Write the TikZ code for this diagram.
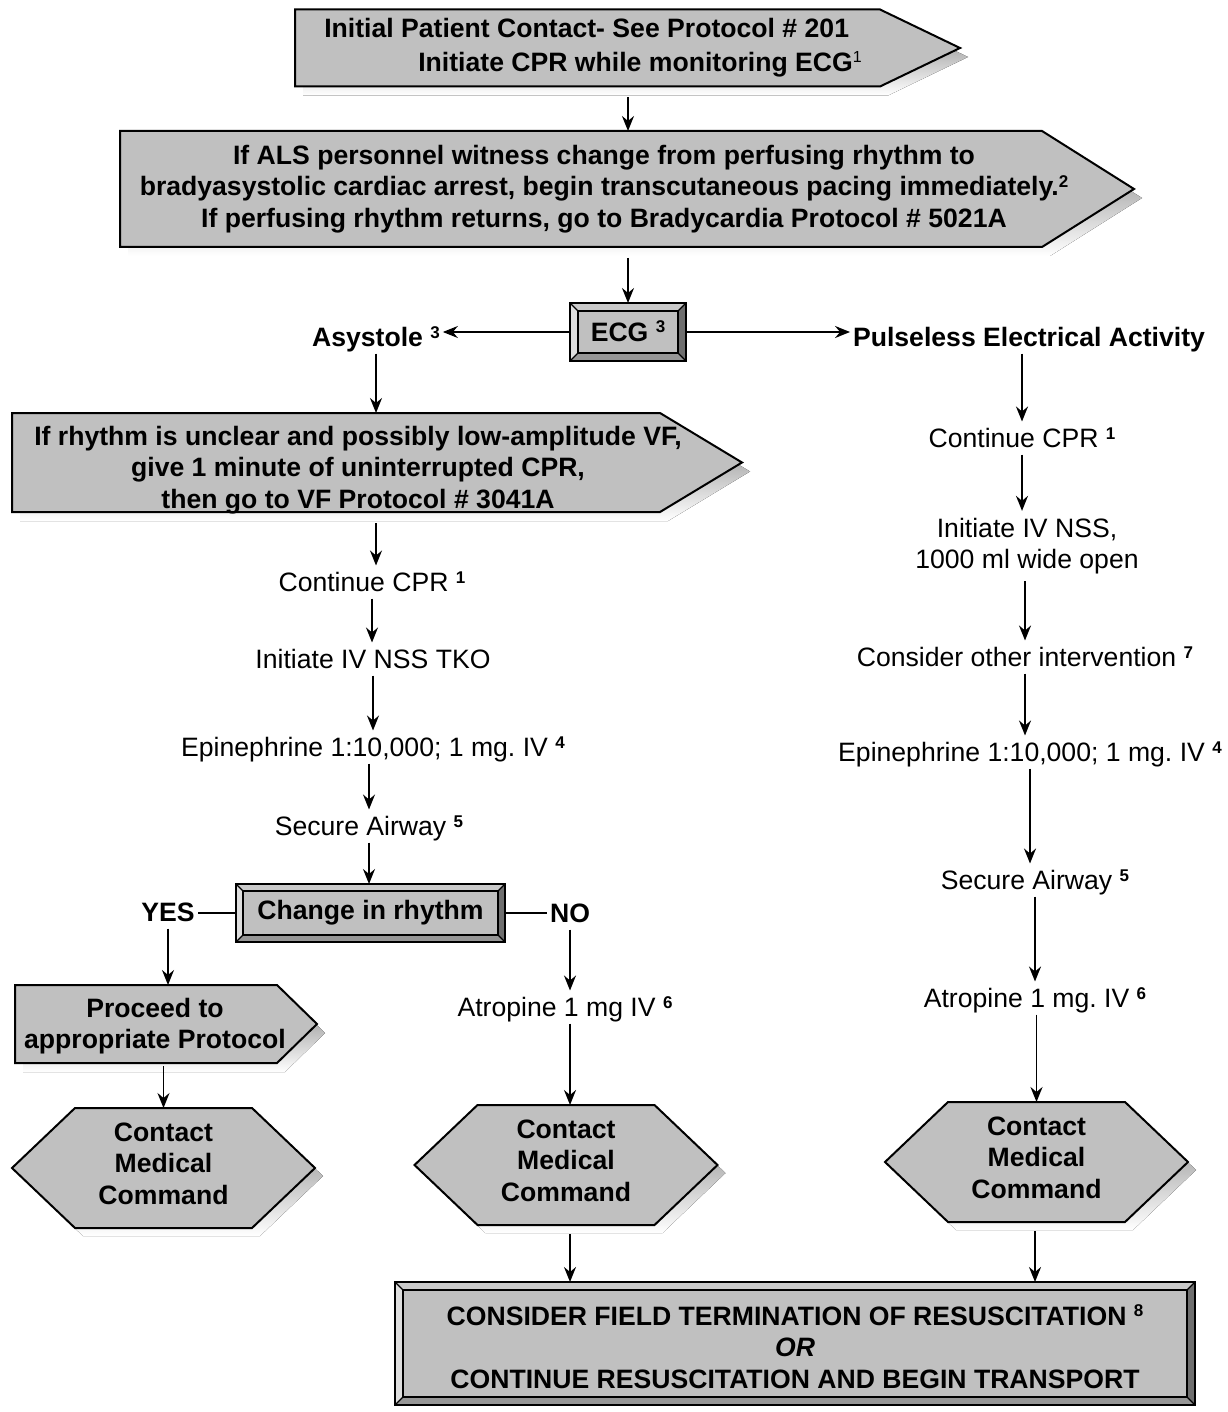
\documentclass[tikz,border=0pt]{standalone}
\usepackage{fontspec}
\setmainfont{Liberation Sans}
\usetikzlibrary{arrows.meta,calc}
\pgfdeclarelayer{background}
\pgfsetlayers{background,main}

\definecolor{face}{HTML}{C0C0C0}
\definecolor{shade}{HTML}{808080}
\definecolor{bvlight}{HTML}{DEDEDE}
\definecolor{bvtop}{HTML}{CACACA}
\definecolor{bvbottom}{HTML}{969696}
\definecolor{bvdark}{HTML}{6E6E6E}

% footnote markers
\newcommand\fn[1]{\smash{\raisebox{8.5pt}{\fontsize{17pt}{17pt}\selectfont\bfseries #1}}}
\newcommand\fnr[1]{\smash{\raisebox{9pt}{\fontsize{16pt}{16pt}\selectfont\mdseries #1}}}

% arrow-shaped box with drop shadow: node, tip length
\newcommand\signalbox[2]{%
  \fill[shade] ([shift={(8,9)}]#1.north west) -- ([shift={(8,9)}]#1.north east)
    -- ([shift={(#2+8,9)}]#1.east) -- ([shift={(8,9)}]#1.south east)
    -- ([shift={(8,9)}]#1.south west) -- cycle;
  \filldraw[fill=face, draw=black, line width=2pt, line join=miter]
    (#1.north west) -- (#1.north east) -- ([shift={(#2,0)}]#1.east)
    -- (#1.south east) -- (#1.south west) -- cycle;}

% elongated hexagon with drop shadow: node, chamfer
\newcommand\hexbox[2]{%
  \fill[shade] ([shift={(8,8)}]#1.west) -- ([shift={(#2+8,8)}]#1.north west)
    -- ([shift={(-#2+8,8)}]#1.north east) -- ([shift={(8,8)}]#1.east)
    -- ([shift={(-#2+8,8)}]#1.south east) -- ([shift={(#2+8,8)}]#1.south west) -- cycle;
  \filldraw[fill=face, draw=black, line width=2pt, line join=miter]
    (#1.west) -- ([shift={(#2,0)}]#1.north west) -- ([shift={(-#2,0)}]#1.north east)
    -- (#1.east) -- ([shift={(-#2,0)}]#1.south east) -- ([shift={(#2,0)}]#1.south west) -- cycle;}

% bevelled button: node, bevel width
\newcommand\bevelbox[2]{%
  \coordinate (#1-a) at ([shift={(#2,#2)}]#1.north west);
  \coordinate (#1-b) at ([shift={(-#2,#2)}]#1.north east);
  \coordinate (#1-c) at ([shift={(-#2,-#2)}]#1.south east);
  \coordinate (#1-d) at ([shift={(#2,-#2)}]#1.south west);
  \fill[bvtop] (#1.north west) -- (#1.north east) -- (#1-b) -- (#1-a) -- cycle;
  \fill[bvlight] (#1.north west) -- (#1-a) -- (#1-d) -- (#1.south west) -- cycle;
  \fill[bvdark] (#1.north east) -- (#1.south east) -- (#1-c) -- (#1-b) -- cycle;
  \fill[bvbottom] (#1.south west) -- (#1-d) -- (#1-c) -- (#1.south east) -- cycle;
  \fill[face] (#1-a) rectangle (#1-c);
  \draw[line width=1.2pt] (#1.north west) -- (#1-a) (#1.north east) -- (#1-b)
    (#1.south east) -- (#1-c) (#1.south west) -- (#1-d);
  \draw[line width=1.8pt] (#1-a) rectangle (#1-c);
  \draw[line width=2.4pt] (#1.north west) rectangle (#1.south east);}

\begin{document}
\frenchspacing
\begin{tikzpicture}[x=1pt, y=-1pt,
  every node/.style={inner sep=0pt, outer sep=0pt},
  txt/.style={font=\fontsize{26.6pt}{31.5pt}\selectfont\frenchspacing, align=center, inner xsep=3pt, inner ysep=7pt},
  btxt/.style={txt, font=\fontsize{26.6pt}{31.5pt}\selectfont\frenchspacing\bfseries},
  one/.style={text height=19pt, text depth=0pt},
  hexnode/.style={btxt, minimum width=303pt, minimum height=120pt},
  bevnode/.style={btxt},
  arr/.style={-{Stealth[length=15pt, width=12pt, inset=5pt]}, line width=1.8pt},
  link/.style={line width=1.8pt}]
\useasboundingbox (0,0) rectangle (1227,1412);

% --- top section
\node[minimum width=585pt, minimum height=77pt] (contact) at (587.5,48) {};
\node[btxt, align=left] (contact-t) at (593,47.5)
  {Initial Patient Contact- See Protocol \# 201\\[2.5pt]
   \hspace*{94pt}Initiate CPR while monitoring ECG\fnr{1}};

\node[minimum width=922pt, minimum height=116pt] (als) at (581,189) {};
\node[btxt] (als-t) at (604,189)
  {If ALS personnel witness change from perfusing rhythm to\\
   bradyasystolic cardiac arrest, begin transcutaneous pacing immediately.\fn{2}\\
   If perfusing rhythm returns, go to Bradycardia Protocol \# 5021A};

\node[bevnode, minimum width=116pt, minimum height=58pt] (ecg) at (628,332) {ECG \fn{3}};
\node[btxt, one] (asys) at (376,337) {Asystole \fn{3}};
\node[btxt, one] (pea) at (1029,337) {Pulseless Electrical Activity};

% --- asystole branch
\node[minimum width=648pt, minimum height=99pt] (vf) at (336,462.5) {};
\node[btxt] (vf-t) at (358,470)
  {If rhythm is unclear and possibly low-amplitude VF,\\
   give 1 minute of uninterrupted CPR,\\
   then go to VF Protocol \# 3041A};

\node[txt, one] (cprL) at (372,582) {Continue CPR \fn{1}};
\node[txt, one] (ivL) at (373,659) {Initiate IV NSS TKO};
\node[txt, one] (epiL) at (373,747) {Epinephrine 1:10,000; 1 mg. IV \fn{4}};
\node[txt, one] (airL) at (369,826) {Secure Airway \fn{5}};

\node[bevnode, minimum width=269pt, minimum height=58pt] (change) at (370.5,913) {Change in rhythm};
\node[btxt, one] (yes) at (168,912) {YES};
\node[btxt, one] (no) at (570,913) {NO};

\node[minimum width=262pt, minimum height=78pt] (proceed) at (146,1024) {};
\node[btxt] (proceed-t) at (155,1026) {Proceed to\\appropriate Protocol};
\node[hexnode] (mcL) at (163.5,1168) {Contact\\Medical\\Command\strut};

\node[txt, one] (atrL) at (565,1007) {Atropine 1 mg IV \fn{6}};
\node[hexnode] (mcM) at (566,1165) {Contact\\Medical\\Command\strut};

% --- PEA branch
\node[txt, one] (cprR) at (1022,438) {Continue CPR \fn{1}};
\node[txt] (ivR) at (1027,546) {Initiate IV NSS,\\1000 ml wide open};
\node[txt, one] (other) at (1025,657) {Consider other intervention \fn{7}};
\node[txt, one] (epiR) at (1030,752) {Epinephrine 1:10,000; 1 mg. IV \fn{4}};
\node[txt, one] (airR) at (1035,880) {Secure Airway \fn{5}};
\node[txt, one] (atrR) at (1035,998) {Atropine 1 mg. IV \fn{6}};
\node[hexnode] (mcR) at (1036.5,1162) {Contact\\Medical\\Command\strut};

% --- final decision
\node[bevnode, minimum width=800pt, minimum height=123pt] (term) at (795,1343.5)
  {\rule{0pt}{27pt}CONSIDER FIELD TERMINATION OF RESUSCITATION \fn{8}\\
   \textit{OR}\\
   CONTINUE RESUSCITATION AND BEGIN TRANSPORT};

% --- shapes behind the text
\begin{pgfonlayer}{background}
  \signalbox{contact}{80}
  \signalbox{als}{92}
  \signalbox{vf}{82}
  \signalbox{proceed}{40}
  \hexbox{mcL}{63}
  \hexbox{mcM}{63}
  \hexbox{mcR}{63}
  \bevelbox{ecg}{8}
  \bevelbox{change}{7}
  \bevelbox{term}{8}
\end{pgfonlayer}

% --- connectors
\draw[arr, shorten <=11pt] (contact.south -| ecg) -- (als.north -| ecg);
\draw[arr, shorten <=11pt] (als.south -| ecg) -- (ecg.north);
\draw[arr] (ecg.west) -- (ecg.west -| asys.east);
\draw[arr] (ecg.east) -- (ecg.east -| pea.west);

\draw[arr] (asys.south) -- (asys.south |- vf.north);
\draw[arr, shorten <=11pt] (vf.south -| asys) -- (cprL.north -| asys);
\draw[arr] (cprL.south) -- (cprL.south |- ivL.north);
\draw[arr] (ivL.south -| epiL) -- (epiL.north);
\draw[arr] (epiL.south -| airL) -- (airL.north);
\draw[arr] (airL.south) -- (airL.south |- change.north);

\draw[link] (change.west) -- (change.west -| yes.east);
\draw[link] (change.east) -- (change.east -| no.west);
\draw[arr] (yes.south) -- (yes.south |- proceed.north);
\draw[arr, shorten <=3pt] (proceed.south -| mcL) -- (mcL.north);
\draw[arr] (no.south) -- (no.south |- atrL.north);
\draw[arr] (atrL.south -| no) -- (mcM.north -| no);
\draw[arr, shorten <=9pt] (mcM.south -| no) -- (term.north -| no);

\draw[arr] (pea.south -| cprR) -- (cprR.north);
\draw[arr] (cprR.south) -- (cprR.south |- ivR.north);
\draw[arr] (ivR.south -| other) -- (other.north);
\draw[arr] (other.south) -- (other.south |- epiR.north);
\draw[arr] (epiR.south) -- (epiR.south |- airR.north);
\draw[arr] (airR.south) -- (airR.south |- atrR.north);
\draw[arr] (atrR.south -| mcR) -- (mcR.north);
\draw[arr, shorten <=9pt] (mcR.south -| atrR) -- (term.north -| atrR);
\end{tikzpicture}
\end{document}
